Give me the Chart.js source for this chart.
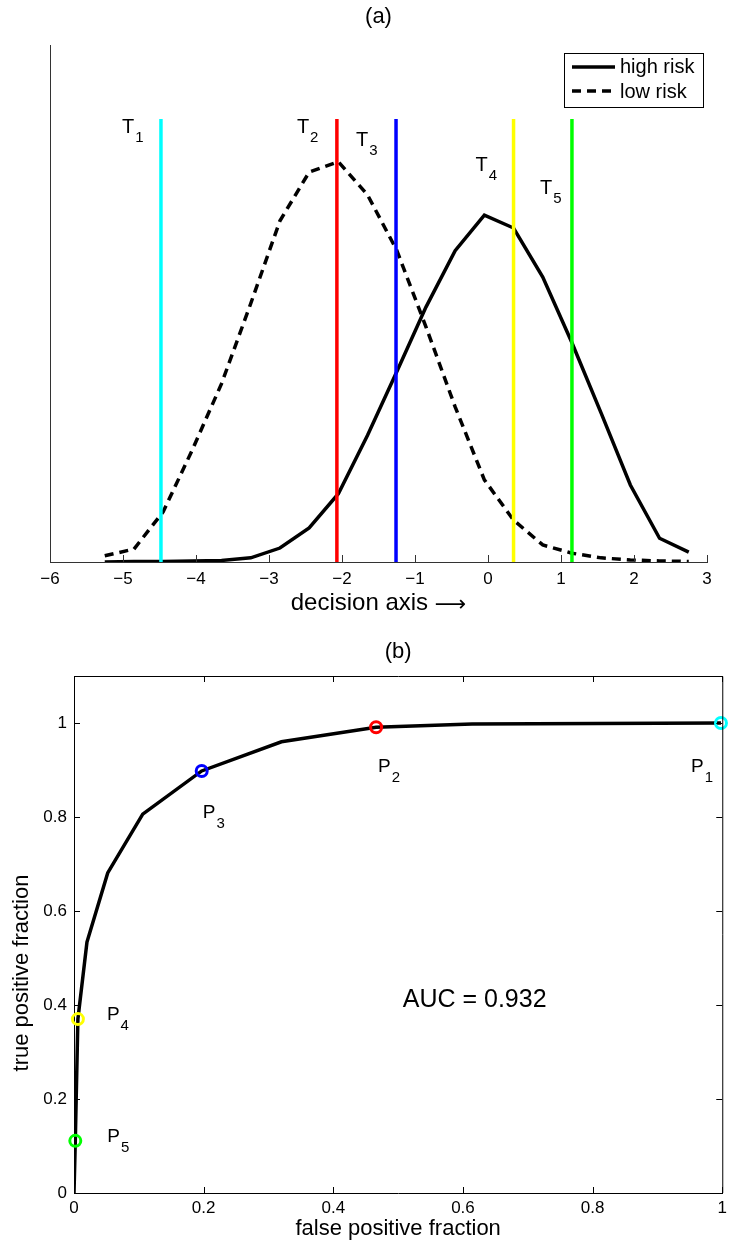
<!DOCTYPE html>
<html>
<head>
<meta charset="utf-8">
<script src="https://cdn.jsdelivr.net/npm/chart.js@4.4.1/dist/chart.umd.min.js"></script>
<style>
  html, body { margin: 0; padding: 0; background: #fff; }
  #wrap { position: relative; width: 732px; height: 1247px; }
  .panel { position: absolute; left: 0; width: 732px; }
</style>
</head>
<body>
<div id="wrap">
  <div class="panel" style="top:0;height:630px"><canvas id="distChart" width="732" height="630"></canvas></div>
  <div class="panel" style="top:630px;height:617px"><canvas id="rocChart" width="732" height="617"></canvas></div>
</div>
<script>
const FONT = "'Liberation Sans', Arial, Helvetica, sans-serif";

// (a) distributions along the decision axis
const decisionX = [-5.25, -4.85, -4.45, -4.05, -3.65, -3.25, -2.85, -2.45, -2.05, -1.65, -1.25,
                   -0.85, -0.45, -0.05, 0.35, 0.75, 1.15, 1.55, 1.95, 2.35, 2.75];
const highRisk = [0.000, 0.001, 0.001, 0.002, 0.003, 0.008, 0.027, 0.066, 0.132, 0.245, 0.368,
                  0.493, 0.602, 0.671, 0.646, 0.551, 0.424, 0.288, 0.149, 0.046, 0.019];
const lowRisk = [0.012, 0.025, 0.097, 0.217, 0.345, 0.500, 0.660, 0.754, 0.774, 0.710, 0.603,
                 0.455, 0.300, 0.159, 0.081, 0.033, 0.017, 0.008, 0.004, 0.002, 0.001];
const decisionTicks = [-6, -5, -4, -3, -2, -1, 0, 1, 2, 3];

// thresholds T1..T5
const thresholdNames = ['1', '2', '3', '4', '5'];
const thresholds = [-4.48, -2.07, -1.26, 0.35, 1.15];
const thresholdColors = ['#00ffff', '#ff0000', '#0000ff', '#ffff00', '#00ff00'];
const thresholdTop = 0.857;

// (b) ROC curve
const rocFpf = [0, 0.002, 0.006, 0.020, 0.052, 0.106, 0.197, 0.320, 0.466, 0.614, 0.998];
const rocTpf = [0, 0.111, 0.370, 0.534, 0.681, 0.806, 0.898, 0.960, 0.991, 0.998, 1.000];
// operating points P1..P5 (same colours as T1..T5)
const opNames = ['1', '2', '3', '4', '5'];
const opFpf = [0.998, 0.466, 0.197, 0.006, 0.002];
const opTpf = [1.000, 0.991, 0.898, 0.370, 0.111];
const rocTicks = [0, 0.2, 0.4, 0.6, 0.8, 1];
const aucText = 'AUC = 0.932';

function fmtTick(v) {
    return v < 0 ? '\u2212' + Math.abs(v) : String(v);
}

// letter with a subscript, like T_1
function drawSub(ctx, main, sub, x, y, size, subSize) {
    ctx.textAlign = 'left';
    ctx.textBaseline = 'middle';
    ctx.font = size + 'px ' + FONT;
    ctx.fillText(main, x, y);
    const w = ctx.measureText(main).width;
    ctx.font = subSize + 'px ' + FONT;
    ctx.fillText(sub, x + w + 1, y + 11);
}

const distDecor = {
    id: 'distDecor',
    afterDatasetsDraw(chart) {
        const { ctx, chartArea: ca, scales: { x } } = chart;
        ctx.save();
        // tick marks point inward
        ctx.strokeStyle = '#333';
        ctx.lineWidth = 1;
        decisionTicks.forEach(v => {
            const px = Math.round(x.getPixelForValue(v)) + 0.5;
            ctx.beginPath();
            ctx.moveTo(px, ca.bottom);
            ctx.lineTo(px, ca.bottom - 7);
            ctx.stroke();
        });

        ctx.fillStyle = '#000';
        ctx.font = '22px ' + FONT;
        ctx.textAlign = 'center';
        ctx.textBaseline = 'middle';
        ctx.fillText('(a)', (ca.left + ca.right) / 2, 17);

        // x label, with a long TeX-like arrow
        ctx.font = '24px ' + FONT;
        const lab = 'decision axis ';
        const wl = ctx.measureText(lab).width;
        ctx.font = '22px "DejaVu Sans"';
        const wa = ctx.measureText('\u27f6').width;
        let sx = (ca.left + ca.right) / 2 - (wl + wa) / 2;
        ctx.textAlign = 'left';
        ctx.font = '24px ' + FONT;
        ctx.fillText(lab, sx, 603);
        ctx.font = '22px "DejaVu Sans"';
        ctx.fillText('\u27f6', sx + wl, 605);

        // T labels sit left of their line
        const tOff = [[-39, 127], [-40, 127], [-40, 140], [-38, 165], [-32, 188]];
        thresholds.forEach((t, i) => {
            const px = x.getPixelForValue(t);
            drawSub(ctx, 'T', thresholdNames[i], px + tOff[i][0], tOff[i][1], 20, 15);
        });

        // legend box
        const lx = 564, ly = 53, lw = ca.right - 4 - 564, lh = 54;
        ctx.fillStyle = '#fff';
        ctx.fillRect(lx, ly, lw, lh);
        ctx.strokeStyle = '#000';
        ctx.lineWidth = 1;
        ctx.strokeRect(lx + 0.5, ly + 0.5, lw, lh);
        ctx.lineWidth = 3.5;
        ctx.beginPath();
        ctx.moveTo(572, 67); ctx.lineTo(615, 67);
        ctx.stroke();
        ctx.setLineDash([9, 6]);
        ctx.beginPath();
        ctx.moveTo(572, 91); ctx.lineTo(615, 91);
        ctx.stroke();
        ctx.setLineDash([]);
        ctx.fillStyle = '#000';
        ctx.font = '20px ' + FONT;
        ctx.textAlign = 'left';
        ctx.fillText('high risk', 620, 67);
        ctx.fillText('low risk', 620, 92);
        ctx.restore();
    }
};

new Chart(document.getElementById('distChart'), {
    type: 'line',
    data: {
        datasets: [
            ...thresholds.map((t, i) => ({
                label: 'T' + thresholdNames[i],
                data: [{ x: t, y: 0 }, { x: t, y: thresholdTop }],
                borderColor: thresholdColors[i],
                borderWidth: 3.5,
                order: 0
            })),
            {
                label: 'high risk',
                data: decisionX.map((x, i) => ({ x: x, y: highRisk[i] })),
                borderColor: '#000',
                borderWidth: 3.5,
                order: 1
            },
            {
                label: 'low risk',
                data: decisionX.map((x, i) => ({ x: x, y: lowRisk[i] })),
                borderColor: '#000',
                borderWidth: 3.5,
                borderDash: [9, 6],
                order: 1
            }
        ]
    },
    options: {
        responsive: false,
        animation: false,
        layout: { padding: { top: 45, right: 25, left: 0, bottom: 0 } },
        elements: {
            point: { radius: 0 },
            line: { tension: 0, fill: false, borderCapStyle: 'butt' }
        },
        plugins: { legend: { display: false }, tooltip: { enabled: false } },
        scales: {
            x: {
                type: 'linear', min: -6, max: 3,
                afterBuildTicks: s => { s.ticks = decisionTicks.map(v => ({ value: v })); },
                afterFit: s => { s.height = 68; },
                grid: { display: false, drawTicks: false },
                border: { color: '#333', width: 1 },
                ticks: {
                    color: '#000', font: { family: FONT, size: 17 }, padding: 7,
                    maxRotation: 0, autoSkip: false, callback: v => fmtTick(v)
                }
            },
            y: {
                min: 0, max: 1,
                afterFit: s => { s.width = 50; },
                grid: { display: false, drawTicks: false },
                border: { color: '#333', width: 1 },
                ticks: { display: false }
            }
        }
    },
    plugins: [distDecor]
});

const rocDecor = {
    id: 'rocDecor',
    afterDatasetsDraw(chart) {
        const { ctx, chartArea: ca, scales: { x, y } } = chart;
        ctx.save();
        ctx.strokeStyle = '#000';
        ctx.lineWidth = 1;
        // close the box
        ctx.beginPath();
        ctx.moveTo(ca.left, Math.round(ca.top) + 0.5);
        ctx.lineTo(ca.right + 0.5, Math.round(ca.top) + 0.5);
        ctx.lineTo(ca.right + 0.5, ca.bottom);
        ctx.stroke();
        // inward ticks on all four sides
        rocTicks.forEach(v => {
            const px = Math.round(x.getPixelForValue(v)) + 0.5;
            ctx.beginPath();
            ctx.moveTo(px, ca.bottom); ctx.lineTo(px, ca.bottom - 6);
            ctx.moveTo(px, ca.top); ctx.lineTo(px, ca.top + 6);
            ctx.stroke();
            const py = Math.round(y.getPixelForValue(v)) + 0.5;
            ctx.beginPath();
            ctx.moveTo(ca.left, py); ctx.lineTo(ca.left + 6, py);
            ctx.moveTo(ca.right, py); ctx.lineTo(ca.right - 6, py);
            ctx.stroke();
        });

        ctx.fillStyle = '#000';
        ctx.font = '22px ' + FONT;
        ctx.textAlign = 'center';
        ctx.textBaseline = 'middle';
        ctx.fillText('(b)', (ca.left + ca.right) / 2, 22);

        // y label, set a little below the axis middle as in the figure
        ctx.save();
        ctx.translate(22, 343);
        ctx.rotate(-Math.PI / 2);
        ctx.fillText('true positive fraction', 0, 0);
        ctx.restore();

        const pOff = [[-30, 44], [2, 40], [1, 42], [29, -4], [32, -4]];
        opFpf.forEach((f, i) => {
            const px = x.getPixelForValue(f);
            const py = y.getPixelForValue(opTpf[i]);
            drawSub(ctx, 'P', opNames[i], px + pOff[i][0], py + pOff[i][1], 19, 15);
        });

        ctx.font = '25px ' + FONT;
        ctx.textAlign = 'center';
        ctx.textBaseline = 'middle';
        ctx.fillText(aucText, x.getPixelForValue(0.618), y.getPixelForValue(0.41));
        ctx.restore();
    }
};

new Chart(document.getElementById('rocChart'), {
    type: 'line',
    data: {
        datasets: [
            {
                label: 'operating points',
                data: opFpf.map((f, i) => ({ x: f, y: opTpf[i] })),
                showLine: false,
                pointRadius: 5.5,
                pointBorderWidth: 3,
                pointBorderColor: thresholdColors,
                pointBackgroundColor: 'rgba(0,0,0,0)',
                clip: false,
                order: 0
            },
            {
                label: 'ROC',
                data: rocFpf.map((f, i) => ({ x: f, y: rocTpf[i] })),
                borderColor: '#000',
                borderWidth: 3.5,
                pointRadius: 0,
                order: 1
            }
        ]
    },
    options: {
        responsive: false,
        animation: false,
        layout: { padding: { top: 46, right: 8, left: 0, bottom: 0 } },
        elements: { line: { tension: 0, fill: false, borderCapStyle: 'butt' } },
        plugins: { legend: { display: false }, tooltip: { enabled: false } },
        scales: {
            x: {
                type: 'linear', min: 0, max: 1,
                afterBuildTicks: s => { s.ticks = rocTicks.map(v => ({ value: v })); },
                afterFit: s => { s.height = 54; },
                grid: { display: false, drawTicks: false },
                border: { color: '#000', width: 1 },
                ticks: {
                    color: '#000', font: { family: FONT, size: 17 }, padding: 5,
                    maxRotation: 0, autoSkip: false, callback: v => fmtTick(v)
                },
                title: {
                    display: true, text: 'false positive fraction', color: '#000',
                    font: { family: FONT, size: 22 }, padding: { top: 0, bottom: 5 }
                }
            },
            y: {
                min: 0, max: 1.1,
                afterBuildTicks: s => { s.ticks = rocTicks.map(v => ({ value: v })); },
                afterFit: s => { s.width = 74; },
                grid: { display: false, drawTicks: false },
                border: { color: '#000', width: 1 },
                ticks: {
                    color: '#000', font: { family: FONT, size: 17 }, padding: 7,
                    autoSkip: false, callback: v => fmtTick(v)
                }
            }
        }
    },
    plugins: [rocDecor]
});
</script>
</body>
</html>
